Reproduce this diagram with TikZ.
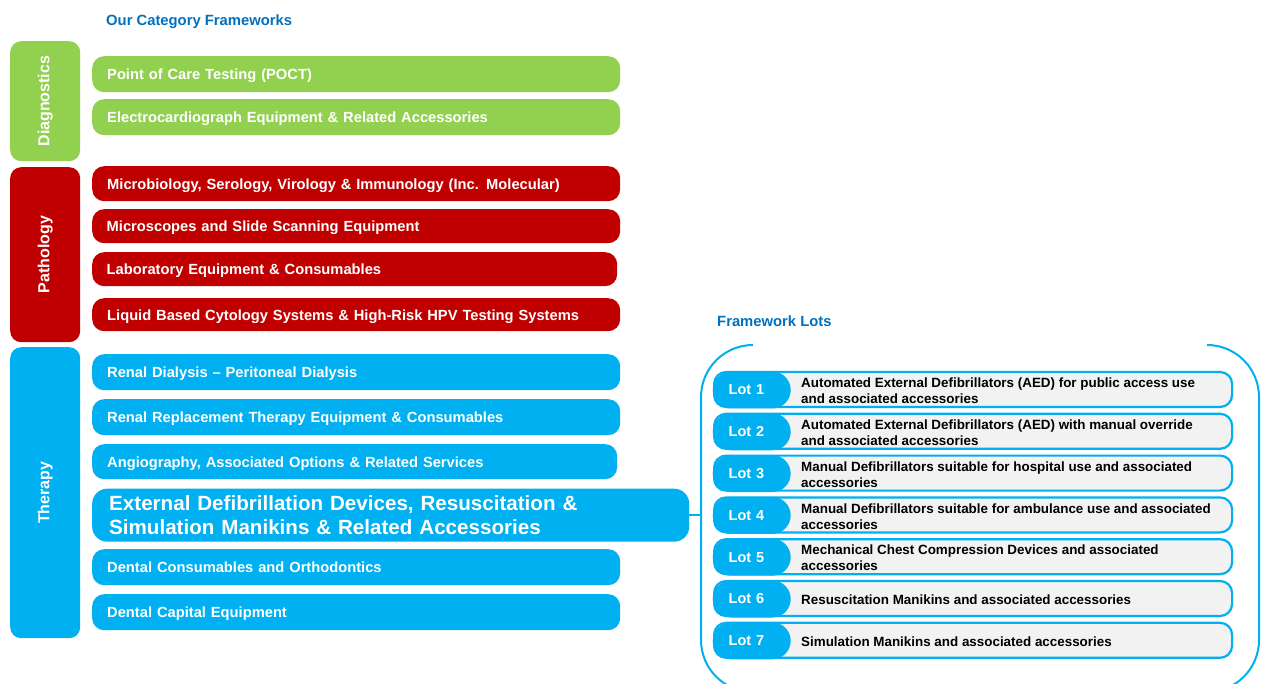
\documentclass[tikz,border=0pt]{standalone}
\usepackage{fontspec}
\setmainfont{Liberation Sans}
\definecolor{dgreen}{HTML}{92D050}
\definecolor{dred}{HTML}{C00000}
\definecolor{dcyan}{HTML}{00B0F0}
\definecolor{tblue}{HTML}{0070C0}
\definecolor{lgray}{HTML}{F2F2F2}
\newcommand\fcat{\fontsize{14.7}{18}\selectfont\bfseries}
\newcommand\fbig{\fontsize{20.6}{24}\selectfont\bfseries}
\newcommand\fside{\fontsize{16}{19}\selectfont\bfseries}
\newcommand\ftitle{\fontsize{14.8}{17}\selectfont\bfseries}
\newcommand\flot{\fontsize{14.5}{17}\selectfont\bfseries}
\newcommand\fdesc{\fontsize{13.4}{16}\selectfont\bfseries}
\begin{document}
\begin{tikzpicture}[x=1pt,y=-1pt,
  side/.style={rounded corners=11, text=white, font=\fside, minimum width=70, anchor=north west, inner sep=0},
  catbase/.style={rounded corners=12, text=white, font=\fcat, anchor=north west, align=left, inner xsep=15, inner ysep=0, minimum height=36},
  cat/.style={catbase, text height=10.8, text depth=0},
  title/.style={text=tblue, font=\ftitle, anchor=west, inner sep=0},
  lotrow/.style={rounded corners=12, fill=lgray, draw=dcyan, line width=2.2, minimum width=518, minimum height=35, anchor=west, inner sep=0},
  lotpill/.style={rounded corners=18.5, fill=dcyan, text=white, font=\flot, anchor=west, align=left, text width=46, inner xsep=16, inner ysep=0, minimum height=37},
  desc/.style={font=\fdesc, anchor=west, align=left, inner sep=0, text=black},
  frame/.style={draw=dcyan, line width=2, rounded corners=52},
  conn/.style={draw=dcyan, line width=2}]
\clip (0,0) rectangle (1261,684);
\fill[white] (0,0) rectangle (1261,684);

\node[title] (t1) at (106,21.5) {Our Category Frameworks};
\node[title] (t2) at (717,321) {Framework Lots};

% side category boxes
\node[side, fill=dgreen, minimum height=120] (sd) at (10,41) {\rotatebox{90}{Diagnostics}};
\node[side, fill=dred, minimum height=175] (sp) at (10,167) {\rotatebox{90}{Pathology}};
\node[side, fill=dcyan, minimum height=291] (st) at (10,347) {\rotatebox{90}{Therapy}};

% diagnostics
\node[cat, fill=dgreen, text width=498] (c1) at (92,56) {Point of Care Testing (POCT)};
\node[cat, fill=dgreen, text width=498] (c2) at (92,99) {Electrocardiograph Equipment \& Related Accessories};
% pathology
\node[cat, fill=dred, text width=498, minimum height=35] (c3) at (92,166) {Microbiology, Serology, Virology \& Immunology (Inc. Molecular)};
\node[cat, fill=dred, text width=499, inner xsep=14.5, minimum height=34] (c4) at (92,209) {Microscopes and Slide Scanning Equipment};
\node[cat, fill=dred, text width=496, inner xsep=14.5, minimum height=34] (c5) at (92,252) {Laboratory Equipment \& Consumables};
\node[cat, fill=dred, text width=498, minimum height=33] (c6) at (92,298) {Liquid Based Cytology Systems \& High-Risk HPV Testing Systems};
% therapy
\node[cat, fill=dcyan, text width=498] (c7) at (92,354) {Renal Dialysis -- Peritoneal Dialysis};
\node[cat, fill=dcyan, text width=498] (c8) at (92,399) {Renal Replacement Therapy Equipment \& Consumables};
\node[cat, fill=dcyan, text width=495, minimum height=35] (c9) at (92,444) {Angiography, Associated Options \& Related Services};
\node[catbase, fill=dcyan, font=\fbig, rounded corners=15, text width=563, inner xsep=17, minimum height=53] (ext) at (92,488.5) {External Defibrillation Devices, Resuscitation \&\\Simulation Manikins \& Related Accessories};
\node[cat, fill=dcyan, text width=498] (c11) at (92,549) {Dental Consumables and Orthodontics};
\node[cat, fill=dcyan, text width=498] (c12) at (92,594) {Dental Capital Equipment};

% frame of lots
\draw[frame] (753,345) -- (701,345) -- (701,692) -- (1259,692) -- (1259,345) -- (1207,345);
\coordinate (fl) at (701,514.5);
\draw[conn] (ext.east) -- (ext.east -| fl);

% lots
\foreach \i/\d in {1/{Automated External Defibrillators (AED) for public access use\\and associated accessories},
                   2/{Automated External Defibrillators (AED) with manual override\\and associated accessories},
                   3/{Manual Defibrillators suitable for hospital use and associated\\accessories},
                   4/{Manual Defibrillators suitable for ambulance use and associated\\accessories},
                   5/{Mechanical Chest Compression Devices and associated\\accessories},
                   6/{Resuscitation Manikins and associated accessories},
                   7/{Simulation Manikins and associated accessories}}{
  \pgfmathsetmacro\yc{389.5+41.8*(\i-1)}
  \node[lotrow] (row\i) at (713,\yc) {};
  \node[lotpill] (lot\i) at (712.5,\yc+0.5) {Lot \i};
  \node[desc] (d\i) at (801,\yc+1.5) {\d};
}
\end{tikzpicture}
\end{document}
